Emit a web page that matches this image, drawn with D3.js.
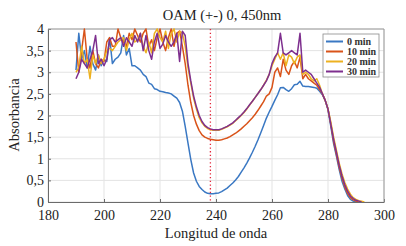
<!DOCTYPE html>
<html>
<head>
<meta charset="utf-8">
<script src="https://cdn.jsdelivr.net/npm/d3@7"></script>
<style>
  body { margin: 0; background: #fff; }
  svg { display: block; font-family: "Liberation Serif", "DejaVu Serif", serif; }
</style>
</head>
<body>
<div id="chart"></div>
<script>
// wavelengths 190..293 nm
const wavelengths = d3.range(190, 294);

const seriesNames = ["0 min", "10 min", "20 min", "30 min"];
const seriesColors = ["#3a78c3", "#d95319", "#edb120", "#7e2f8e"];

const abs0 = [3.05,3.9,3.3,3.5,3.1,3.6,3.2,3.05,3.4,3.15,
  3.3,3.25,3.8,3.2,3.3,3.35,3.45,3.85,3.4,3.55,
  3.15,3.15,3.1,3.05,2.95,2.9,2.75,2.72,2.62,2.6,
  2.56,2.55,2.53,2.52,2.5,2.45,2.4,2.3,2.1,1.75,
  1.36,0.98,0.67,0.48,0.36,0.29,0.23,0.2,0.19,0.19,
  0.2,0.21,0.24,0.28,0.32,0.38,0.44,0.51,0.59,0.69,
  0.79,0.9,1.02,1.15,1.29,1.44,1.6,1.77,1.94,2.08,
  2.21,2.35,2.48,2.64,2.65,2.6,2.56,2.62,2.71,2.72,
  2.79,2.68,2.67,2.67,2.66,2.65,2.63,2.56,2.48,2.35,
  2.13,1.75,1.35,1.06,0.75,0.48,0.3,0.15,0.06,0.02,
  0,null,null,null];

const abs10 = [3.7,3.0,3.5,4.0,3.3,3.1,3.5,3.2,3.1,3.3,
  3.25,3.7,3.8,3.6,3.6,4.0,3.8,3.7,3.6,3.9,
  3.75,4.0,3.85,3.7,3.9,4.0,3.6,3.75,3.5,3.8,
  4.0,3.7,3.5,3.8,4.0,3.6,3.9,3.95,3.6,3.2,
  2.7,2.3,2.0,1.8,1.65,1.55,1.5,1.47,1.45,1.44,
  1.43,1.43,1.44,1.46,1.48,1.51,1.55,1.59,1.64,1.69,
  1.75,1.81,1.88,1.95,2.03,2.12,2.22,2.32,2.45,2.5,
  2.65,3.0,3.1,2.9,3.3,3.05,2.95,3.15,3.25,3.1,
  3.35,2.85,2.95,2.85,2.8,2.75,2.7,2.6,2.5,2.35,
  2.15,1.8,1.4,1.1,0.8,0.55,0.35,0.2,0.1,0.05,
  0.02,0,null,null];

const abs20 = [3.0,3.1,3.6,3.2,3.3,2.85,3.4,3.2,3.4,3.2,
  3.3,3.5,3.55,3.5,3.6,3.7,3.75,3.8,3.5,3.75,
  3.9,3.7,3.75,3.9,3.6,3.45,3.7,3.45,3.9,4.0,
  3.8,3.7,3.95,3.55,3.9,4.0,3.7,3.95,3.9,3.6,
  3.1,2.75,2.4,2.15,1.95,1.83,1.75,1.7,1.67,1.66,
  1.66,1.66,1.68,1.71,1.74,1.78,1.82,1.88,1.94,2.0,
  2.07,2.15,2.24,2.33,2.42,2.51,2.6,2.7,2.82,2.95,
  3.15,3.3,3.45,3.3,3.45,3.15,3.4,3.35,3.2,3.35,
  3.4,2.95,3.0,2.95,2.85,2.8,2.85,2.7,2.5,2.35,
  2.15,1.85,1.5,1.2,0.9,0.65,0.45,0.3,0.18,0.1,
  0.06,0.03,0.015,0];

const abs30 = [2.85,3.0,3.3,3.2,3.1,3.3,3.5,3.85,3.2,3.3,
  3.15,3.3,3.75,3.8,3.7,3.75,3.8,3.6,3.8,3.7,
  3.6,3.85,3.7,3.9,3.5,3.85,3.5,3.3,3.7,3.9,
  3.55,3.65,3.85,3.7,3.6,3.7,3.9,3.25,3.95,3.85,
  3.2,2.8,2.45,2.2,2.0,1.86,1.77,1.72,1.69,1.67,
  1.67,1.67,1.69,1.72,1.75,1.79,1.83,1.89,1.95,2.01,
  2.08,2.16,2.25,2.33,2.42,2.51,2.6,2.7,2.8,2.95,
  3.2,3.35,3.45,3.9,3.45,3.4,3.45,3.5,3.45,3.4,
  3.9,3.0,3.05,3.0,2.95,2.85,2.75,2.65,2.5,2.35,
  2.15,1.8,1.45,1.15,0.85,0.6,0.4,0.25,0.14,0.08,
  0.04,0.02,0,null];

const seriesValues = [abs0, abs10, abs20, abs30];

const xTicks = [180, 200, 220, 240, 260, 280, 300];
const yTicks = [0, 0.5, 1, 1.5, 2, 2.5, 3, 3.5, 4];
const markerWavelength = 238;

const titleText = "OAM (+-) 0, 450nm";
const xLabel = "Longitud de onda";
const yLabel = "Absorbancia";

const W = 406, H = 246;
const margin = {top: 29, right: 22, bottom: 44, left: 48};
const width = W - margin.left - margin.right;
const height = H - margin.top - margin.bottom;

const svg = d3.select("#chart").append("svg")
  .attr("width", W)
  .attr("height", H);

const g = svg.append("g")
  .attr("transform", `translate(${margin.left},${margin.top})`);

const x = d3.scaleLinear().domain([180, 300]).range([0, width]);
const y = d3.scaleLinear().domain([0, 4]).range([height, 0]);

// grid
g.append("g").selectAll("line.gx")
  .data(xTicks)
  .join("line")
  .attr("x1", d => x(d)).attr("x2", d => x(d))
  .attr("y1", 0).attr("y2", height)
  .attr("stroke", "#e3e3e3").attr("stroke-width", 1);

g.append("g").selectAll("line.gy")
  .data(yTicks)
  .join("line")
  .attr("x1", 0).attr("x2", width)
  .attr("y1", d => y(d)).attr("y2", d => y(d))
  .attr("stroke", "#e3e3e3").attr("stroke-width", 1);

// axes
const xAxis = g.append("g")
  .attr("transform", `translate(0,${height})`)
  .call(d3.axisBottom(x).tickValues(xTicks).tickSizeInner(-3).tickSizeOuter(0).tickPadding(8));

const yAxis = g.append("g")
  .call(d3.axisLeft(y).tickValues(yTicks).tickSizeInner(-3).tickSizeOuter(0).tickPadding(4)
    .tickFormat(d => String(d).replace(".", ",")));

[xAxis, yAxis].forEach(a => {
  a.select(".domain").attr("stroke", "#6b6b6b");
  a.selectAll(".tick line").attr("stroke", "#6b6b6b");
  a.selectAll("text")
    .attr("font-family", "Liberation Serif, serif")
    .attr("font-size", 14)
    .attr("fill", "#222");
});

// box top/right
g.append("line").attr("x1", 0).attr("x2", width).attr("y1", 0).attr("y2", 0)
  .attr("stroke", "#9a9a9a");
g.append("line").attr("x1", width).attr("x2", width).attr("y1", 0).attr("y2", height)
  .attr("stroke", "#9a9a9a");

// clip for lines
g.append("clipPath").attr("id", "clip")
  .append("rect").attr("x", 0).attr("y", -1).attr("width", width).attr("height", height + 1);

const line = d3.line()
  .defined(d => d[1] !== null)
  .x(d => x(d[0]))
  .y(d => y(d[1]));

const lines = g.append("g").attr("clip-path", "url(#clip)");

seriesValues.forEach((vals, i) => {
  const pts = wavelengths.map((w, j) => [w, vals[j]]);
  lines.append("path")
    .datum(pts)
    .attr("fill", "none")
    .attr("stroke", seriesColors[i])
    .attr("stroke-width", 1.5)
    .attr("stroke-linejoin", "round")
    .attr("d", line);
});

// dotted marker
g.append("line")
  .attr("x1", x(markerWavelength)).attr("x2", x(markerWavelength))
  .attr("y1", y(4)).attr("y2", y(0))
  .attr("stroke", "#e3263a")
  .attr("stroke-width", 1.3)
  .attr("stroke-dasharray", "1.3,2.4");

// legend
const legend = svg.append("g").attr("transform", "translate(323,34)");
legend.append("rect")
  .attr("width", 56).attr("height", 43)
  .attr("fill", "#fff").attr("stroke", "#8a8a8a").attr("stroke-width", 0.8);

seriesNames.forEach((name, i) => {
  const ly = 7.5 + i * 10;
  legend.append("line")
    .attr("x1", 3).attr("x2", 20)
    .attr("y1", ly).attr("y2", ly)
    .attr("stroke", seriesColors[i]).attr("stroke-width", 2);
  legend.append("text")
    .attr("x", 24).attr("y", ly + 3.5)
    .attr("font-size", 10)
    .attr("font-weight", "bold")
    .attr("fill", "#333")
    .text(name);
});

// title and labels
svg.append("text")
  .attr("x", 222).attr("y", 20)
  .attr("text-anchor", "middle")
  .attr("font-size", 14.5)
  .attr("fill", "#222")
  .text(titleText);

svg.append("text")
  .attr("x", 216).attr("y", 238)
  .attr("text-anchor", "middle")
  .attr("font-size", 14.5)
  .attr("fill", "#222")
  .text(xLabel);

svg.append("text")
  .attr("transform", "translate(19,115) rotate(-90)")
  .attr("text-anchor", "middle")
  .attr("font-size", 14.5)
  .attr("fill", "#222")
  .text(yLabel);
</script>
</body>
</html>
